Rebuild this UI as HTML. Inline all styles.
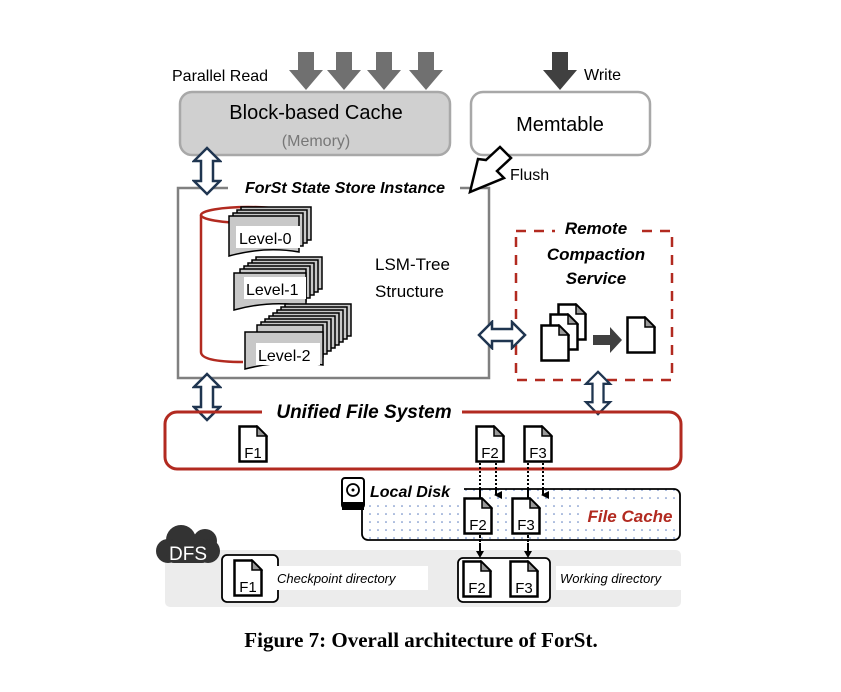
<!DOCTYPE html>
<html><head><meta charset="utf-8"><style>
body{margin:0;background:#fff}
svg{display:block}
text{font-family:"Liberation Sans","DejaVu Sans",sans-serif}
.bi{font-weight:bold;font-style:italic}
</style></head><body>
<svg width="841" height="692" viewBox="0 0 841 692" xmlns="http://www.w3.org/2000/svg">
<defs>
<symbol id="file" viewBox="0 0 30 38">
<path d="M1.5 1.5H19L28.5 11V36.5H1.5Z" fill="#fff" stroke="#000" stroke-width="2.5"/>
<path d="M19 1.5V11H28.5Z" fill="#999" stroke="#000" stroke-width="1.5"/>
</symbol>
<symbol id="dv" viewBox="0 0 30 50">
<path d="M15 2L28 15H21V35H28L15 48L2 35H9V15H2Z" fill="#fff" stroke="#1f3550" stroke-width="2.5" stroke-linejoin="miter"/>
</symbol>
<symbol id="dh" viewBox="0 0 50 30">
<path d="M2 15L15 2V9H35V2L48 15L35 28V21H15V28Z" fill="#fff" stroke="#1f3550" stroke-width="2.5"/>
</symbol>
<marker id="ah" markerWidth="8" markerHeight="8" refX="4" refY="6" orient="auto" markerUnits="userSpaceOnUse">
<path d="M0 0L8 0L4 8Z" fill="#000"/>
</marker>
<pattern id="dots" width="8" height="8" patternUnits="userSpaceOnUse"><circle cx="2" cy="2" r="0.8" fill="#5577bb"/></pattern>
</defs>

<text x="172" y="81" font-size="16">Parallel Read</text>
<g fill="#707070">
<path d="M298 52h16v18h9l-17 20l-17-20h9z"/>
<path d="M336 52h16v18h9l-17 20l-17-20h9z"/>
<path d="M376 52h16v18h9l-17 20l-17-20h9z"/>
<path d="M418 52h16v18h9l-17 20l-17-20h9z"/>
</g>
<path d="M552 52h16v18h9l-17 20l-17-20h9z" fill="#404040"/>
<text x="584" y="80" font-size="16">Write</text>

<rect x="180" y="92" width="270" height="63" rx="12" fill="#d0d0d0" stroke="#a8a8a8" stroke-width="2.5"/>
<text x="316" y="119" font-size="20" text-anchor="middle">Block-based Cache</text>
<text x="316" y="146" font-size="16" fill="#777" text-anchor="middle">(Memory)</text>
<rect x="471" y="92" width="179" height="63" rx="12" fill="#fff" stroke="#a8a8a8" stroke-width="2.5"/>
<text x="560" y="131" font-size="20" text-anchor="middle">Memtable</text>

<rect x="178" y="188" width="311" height="190" fill="none" stroke="#808080" stroke-width="2.5"/>
<rect x="228" y="176" width="232" height="22" fill="#fff"/>
<text x="345" y="193" font-size="16" class="bi" text-anchor="middle">ForSt State Store Instance</text>
<path d="M486 160L500 147L511 158L497 171L504 178L470 192L478 159Z" fill="#fff" stroke="#000" stroke-width="2.5"/>
<text x="510" y="180" font-size="16">Flush</text>

<ellipse cx="248" cy="215" rx="47" ry="8" fill="none" stroke="#b22a20" stroke-width="2.5"/>
<path d="M201 215V352Q201 362 243 362" fill="none" stroke="#b22a20" stroke-width="2.5"/>
<g fill="#c8c8c8" stroke="#000" stroke-width="1.5">
<rect x="241" y="207" width="70" height="33"/><rect x="237" y="210" width="70" height="33"/><rect x="233" y="213" width="70" height="33"/>
<path d="M229 216h70v36q-34 -6 -70 4z"/>
</g>
<rect x="236" y="226" width="64" height="22" fill="#fff"/>
<text x="239" y="244" font-size="16">Level-0</text>
<g fill="#c8c8c8" stroke="#000" stroke-width="1.5">
<rect x="256" y="257" width="66" height="32"/><rect x="252" y="260" width="66" height="32"/><rect x="248" y="263" width="66" height="32"/><rect x="244" y="266" width="66" height="32"/><rect x="240" y="269" width="66" height="32"/>
<path d="M234 273h72v33q-36 -6 -72 4z"/>
</g>
<rect x="244" y="277" width="62" height="22" fill="#fff"/>
<text x="246" y="295" font-size="16">Level-1</text>
<g fill="#c8c8c8" stroke="#000" stroke-width="1.5">
<rect x="285" y="304" width="66" height="32"/><rect x="281" y="307" width="66" height="32"/><rect x="277" y="310" width="66" height="32"/><rect x="273" y="313" width="66" height="32"/><rect x="269" y="316" width="66" height="32"/><rect x="265" y="319" width="66" height="32"/><rect x="261" y="322" width="66" height="32"/><rect x="257" y="325" width="66" height="32"/>
<path d="M245 332h78v33q-39 -6 -78 4z"/>
</g>
<rect x="256" y="343" width="64" height="22" fill="#fff"/>
<text x="258" y="361" font-size="16">Level-2</text>
<text x="375" y="270" font-size="17">LSM-Tree</text>
<text x="375" y="297" font-size="17">Structure</text>

<rect x="516" y="231" width="156" height="149" fill="none" stroke="#b22a20" stroke-width="2.5" stroke-dasharray="10,8"/>
<rect x="555" y="220" width="80" height="20" fill="#fff"/>
<text x="596" y="234" font-size="17" class="bi" text-anchor="middle">Remote</text>
<text x="596" y="260" font-size="17" class="bi" text-anchor="middle">Compaction</text>
<text x="596" y="284" font-size="17" class="bi" text-anchor="middle">Service</text>
<use href="#file" x="557" y="303" width="30" height="38"/>
<use href="#file" x="549" y="313" width="30" height="38"/>
<use href="#file" x="540" y="324" width="30" height="38"/>
<path d="M593 335h17v-8l12 13l-12 13v-8h-17z" fill="#404040"/>
<use href="#file" x="626" y="316" width="30" height="38"/>

<use href="#dv" x="192" y="146" width="30" height="50"/>
<use href="#dv" x="192" y="372" width="30" height="50"/>
<use href="#dv" x="583" y="370" width="30" height="46"/>
<use href="#dh" x="477" y="320" width="50" height="30"/>

<rect x="165" y="412" width="516" height="57" rx="12" fill="none" stroke="#b22a20" stroke-width="3"/>
<rect x="262" y="400" width="200" height="22" fill="#fff"/>
<text x="364" y="418" font-size="19" class="bi" text-anchor="middle">Unified File System</text>

<g stroke="#000" stroke-width="2" stroke-dasharray="2,2" fill="none">
<path d="M480 463V553"/>
<path d="M528 463V553"/>
<path d="M496 463V495" marker-end="url(#ah)"/>
<path d="M543 463V495" marker-end="url(#ah)"/>
</g>

<use href="#file" x="238" y="425" width="30" height="38"/><text x="253" y="458" font-size="15" text-anchor="middle">F1</text>
<use href="#file" x="475" y="425" width="30" height="38"/><text x="490" y="458" font-size="15" text-anchor="middle">F2</text>
<use href="#file" x="523" y="425" width="30" height="38"/><text x="538" y="458" font-size="15" text-anchor="middle">F3</text>

<rect x="362" y="489" width="318" height="51" rx="6" fill="url(#dots)" stroke="#000" stroke-width="1.8"/>
<rect x="354" y="486" width="110" height="16" fill="#fff"/>
<path d="M480 489V500M496 489V495M528 489V500M543 489V495" stroke="#000" stroke-width="2" stroke-dasharray="2,2"/>
<rect x="342" y="478" width="22" height="30" rx="3" fill="#fff" stroke="#000" stroke-width="2"/>
<rect x="342" y="502" width="22" height="8" fill="#000"/>
<circle cx="353" cy="490" r="6" fill="none" stroke="#000" stroke-width="1.8"/><circle cx="353" cy="490" r="1.5"/>
<text x="370" y="497" font-size="16" class="bi">Local Disk</text>
<rect x="585" y="503" width="90" height="26" fill="#fff"/>
<text x="630" y="522" font-size="17" class="bi" fill="#b22a20" text-anchor="middle">File Cache</text>
<use href="#file" x="463" y="497" width="30" height="38"/><text x="478" y="530" font-size="15" text-anchor="middle">F2</text>
<use href="#file" x="511" y="497" width="30" height="38"/><text x="526" y="530" font-size="15" text-anchor="middle">F3</text>
<path d="M480 536V553M528 536V553" stroke="#000" stroke-width="2" stroke-dasharray="2,2"/>

<rect x="165" y="550" width="516" height="57" rx="5" fill="#ececec"/>
<path d="M480 545V553M528 545V553" stroke="#000" stroke-width="2" stroke-dasharray="2,2"/>
<path d="M476 551h8l-4 7zM524 551h8l-4 7z" fill="#000"/>
<g fill="#333">
<circle cx="181" cy="540" r="15"/><circle cx="205" cy="541" r="12"/><circle cx="168" cy="551" r="12"/><circle cx="208" cy="551" r="12"/>
<rect x="166" y="540" width="44" height="23" rx="8"/>
</g>
<text x="188" y="560" font-size="19" fill="#fff" text-anchor="middle">DFS</text>
<rect x="222" y="555" width="56" height="47" rx="5" fill="#fff" stroke="#000" stroke-width="1.8"/>
<use href="#file" x="233" y="559" width="30" height="38"/><text x="248" y="592" font-size="15" text-anchor="middle">F1</text>
<rect x="273" y="566" width="155" height="24" fill="#fff"/>
<text x="277" y="583" font-size="13" font-style="italic">Checkpoint directory</text>
<rect x="458" y="558" width="92" height="44" rx="5" fill="#fff" stroke="#000" stroke-width="1.8"/>
<use href="#file" x="462" y="560" width="30" height="38"/><text x="477" y="593" font-size="15" text-anchor="middle">F2</text>
<use href="#file" x="509" y="560" width="30" height="38"/><text x="524" y="593" font-size="15" text-anchor="middle">F3</text>
<rect x="556" y="566" width="138" height="24" fill="#fff"/>
<text x="560" y="583" font-size="13" font-style="italic">Working directory</text>

<text x="421" y="647" font-size="21" font-weight="bold" text-anchor="middle" style="font-family:'Liberation Serif',serif">Figure 7: Overall architecture of ForSt.</text>
</svg>
</body></html>
